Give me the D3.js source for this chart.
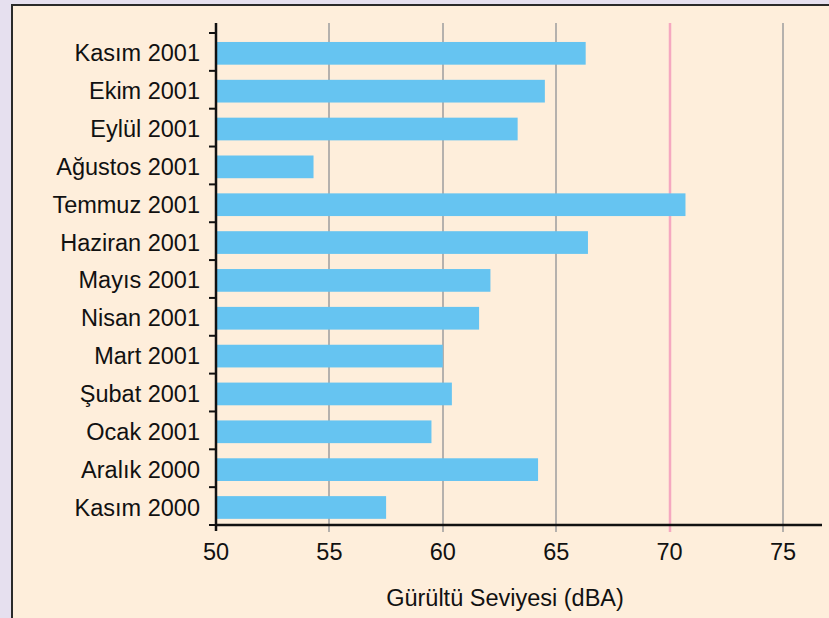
<!DOCTYPE html>
<html>
<head>
<meta charset="utf-8">
<script src="https://cdn.jsdelivr.net/npm/d3@7"></script>
<style>
  body { margin: 0; background: #e6e0ef; }
  text { font-family: "Liberation Sans", Arial, sans-serif; fill: #111; }
</style>
</head>
<body>
<div id="chart"></div>
<script>
// months, top to bottom
let months = ["Kasım 2001", "Ekim 2001", "Eylül 2001", "Ağustos 2001", "Temmuz 2001",
  "Haziran 2001", "Mayıs 2001", "Nisan 2001", "Mart 2001", "Şubat 2001",
  "Ocak 2001", "Aralık 2000", "Kasım 2000"];
let noise = [66.3, 64.5, 63.3, 54.3, 70.7, 66.4, 62.1, 61.6, 60.0, 60.4, 59.5, 64.2, 57.5];
let xTicks = [50, 55, 60, 65, 70, 75];
let limit = 70;

let W = 829, H = 618;
let svg = d3.select("#chart").append("svg")
  .attr("width", W).attr("height", H)
  .style("display", "block");

// panel
svg.append("rect")
  .attr("x", 12).attr("y", 5)
  .attr("width", W + 10).attr("height", H + 10)
  .attr("fill", "#feeedb")
  .attr("stroke", "#2a2a2a").attr("stroke-width", 2);

let pLeft = 216, pRight = 822, pTop = 33, pBottom = 525;

let x = d3.scaleLinear().domain([50, 50 + (pRight - pLeft) / 22.68]).range([pLeft, pRight]);
let y = d3.scaleBand().domain(months).range([pTop + 1.4, pBottom + 1.4]).paddingInner(0.4).paddingOuter(0.2);

// grid
svg.selectAll(".grid")
  .data(xTicks.filter(d => d > 50))
  .enter().append("line")
  .attr("class", "grid")
  .attr("x1", d => Math.round(x(d))).attr("x2", d => Math.round(x(d)))
  .attr("y1", 23).attr("y2", pBottom + 7)
  .attr("stroke", d => d === limit ? "#f5a8c0" : "#b5b1ad")
  .attr("stroke-width", d => d === limit ? 2.5 : 2);

// bars
svg.selectAll(".bar")
  .data(months)
  .enter().append("rect")
  .attr("class", "bar")
  .attr("x", x(50))
  .attr("y", d => y(d))
  .attr("width", (d, i) => x(noise[i]) - x(50))
  .attr("height", y.bandwidth())
  .attr("fill", "#66c4f1");

// y axis
let yAxis = svg.append("g");
yAxis.append("line")
  .attr("x1", pLeft).attr("x2", pLeft)
  .attr("y1", 23).attr("y2", pBottom + 6)
  .attr("stroke", "#111").attr("stroke-width", 2.5);
let step = (pBottom - pTop) / months.length;
yAxis.selectAll(".ytick")
  .data(d3.range(months.length + 1))
  .enter().append("line")
  .attr("x1", pLeft - 7).attr("x2", pLeft)
  .attr("y1", i => pTop + i * step).attr("y2", i => pTop + i * step)
  .attr("stroke", "#111").attr("stroke-width", 2);
yAxis.selectAll(".ylab")
  .data(months)
  .enter().append("text")
  .attr("x", 200)
  .attr("y", (d, i) => pTop + (i + 0.5) * step + 1)
  .attr("dy", "0.36em")
  .attr("text-anchor", "end")
  .attr("font-size", 23.5)
  .text(d => d);

// x axis
let xAxis = svg.append("g");
xAxis.append("line")
  .attr("x1", pLeft - 1).attr("x2", pRight)
  .attr("y1", pBottom).attr("y2", pBottom)
  .attr("stroke", "#111").attr("stroke-width", 2.5);
xAxis.selectAll(".xlab")
  .data(xTicks)
  .enter().append("text")
  .attr("x", d => x(d))
  .attr("y", 552)
  .attr("dy", "0.36em")
  .attr("text-anchor", "middle")
  .attr("font-size", 23.5)
  .text(d => d);

svg.append("text")
  .attr("x", 505).attr("y", 598)
  .attr("dy", "0.36em")
  .attr("text-anchor", "middle")
  .attr("font-size", 23.5)
  .text("Gürültü Seviyesi (dBA)");
</script>
</body>
</html>
